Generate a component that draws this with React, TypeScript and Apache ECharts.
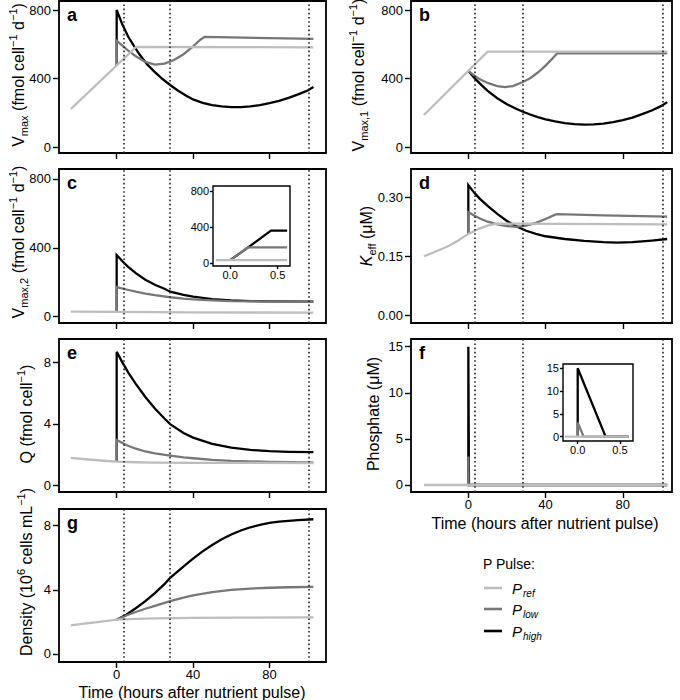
import React, { useEffect, useRef } from 'react';
import * as echarts from 'echarts';

// ---------- data (time in hours after nutrient pulse) ----------
const timeTicks = [0, 40, 80];
const sampleTimes = [3.5, 28, 100.5];
const vmaxTicks = [0, 400, 800];
const keffTicks = [0, 0.15, 0.3];
const qTicks = [0, 4, 8];
const phosTicks = [0, 5, 10, 15];
const densTicks = [0, 4, 8];
const insetTimeTicks = [0, 0.5];

const vmaxRef = [[-24, 222], [10.2, 585], [103, 582]];
const vmaxLow = [[0, 478], [0, 620], [3, 592], [6, 563], [10, 530], [15, 497], [20, 481], [25, 487], [30, 508], [35, 542], [40, 588], [44, 628], [46, 643], [60, 640], [80, 636], [103, 632]];
const vmaxHigh = [[0, 478], [0, 800], [3, 715], [6, 645], [9, 590], [12, 540], [16, 482], [20, 437], [24, 397], [28, 362], [32, 330], [36, 302], [40, 278], [45, 258], [50, 245], [55, 237], [60, 233], [65, 233], [70, 237], [75, 245], [80, 256], [85, 270], [90, 287], [95, 307], [100, 330], [103, 350]];

const vmax1Ref = [[-23, 187], [10, 557], [103, 557]];
const vmax1Low = [[0, 445], [3, 418], [6, 395], [10, 374], [15, 356], [19, 350], [23, 356], [28, 378], [32, 402], [36, 435], [40, 475], [43, 510], [46, 547], [103, 547]];
const vmax1High = [[0, 445], [3, 405], [6, 370], [10, 328], [15, 285], [20, 250], [25, 222], [28, 207], [32, 190], [36, 175], [40, 162], [45, 150], [50, 140], [55, 134], [60, 131], [65, 132], [70, 137], [75, 145], [80, 157], [85, 172], [90, 192], [95, 213], [100, 240], [103, 262]];

const vmax2Ref = [[-24, 30], [0, 28], [40, 25], [103, 24]];
const vmax2Low = [[0, 28], [0, 172], [5, 158], [10, 145], [15, 134], [20, 125], [28, 113], [35, 105], [40, 101], [50, 95], [60, 91], [80, 88], [103, 86]];
const vmax2High = [[0, 28], [0, 358], [3, 322], [6, 290], [10, 253], [15, 215], [20, 186], [25, 162], [28, 145], [35, 127], [40, 116], [50, 102], [60, 95], [70, 91], [80, 89], [103, 88]];
const vmax2InsetRef = [[-0.15, 30], [0.6, 30]];
const vmax2InsetLow = [[0, 30], [0.19, 172], [0.6, 172]];
const vmax2InsetHigh = [[0, 30], [0.19, 172], [0.43, 358], [0.6, 358]];

const keffRef = [[-23, 0.15], [-15, 0.166], [-10, 0.177], [-5, 0.191], [0, 0.207], [5, 0.219], [10, 0.228], [14.5, 0.233], [103, 0.231]];
const keffLow = [[0, 0.207], [0, 0.262], [3, 0.254], [6, 0.246], [10, 0.238], [15, 0.231], [20, 0.227], [25, 0.225], [30, 0.228], [35, 0.235], [40, 0.245], [45, 0.256], [46, 0.257], [70, 0.254], [103, 0.251]];
const keffHigh = [[0, 0.207], [0, 0.331], [3, 0.312], [6, 0.296], [10, 0.278], [15, 0.258], [20, 0.24], [25, 0.226], [30, 0.215], [35, 0.207], [40, 0.201], [50, 0.194], [60, 0.189], [70, 0.186], [77, 0.185], [85, 0.186], [95, 0.19], [103, 0.194]];

const qRef = [[-24, 1.78], [-15, 1.68], [-10, 1.63], [-5, 1.58], [0, 1.54], [10, 1.5], [20, 1.48], [40, 1.46], [103, 1.45]];
const qLow = [[0, 1.54], [0, 2.95], [5, 2.62], [10, 2.38], [15, 2.2], [20, 2.07], [28, 1.93], [35, 1.82], [40, 1.76], [50, 1.66], [60, 1.59], [80, 1.52], [103, 1.49]];
const qHigh = [[0, 1.54], [0, 8.68], [3, 8.0], [6, 7.35], [10, 6.6], [15, 5.75], [20, 5.0], [25, 4.35], [28, 3.98], [35, 3.4], [40, 3.1], [50, 2.7], [60, 2.45], [70, 2.3], [80, 2.22], [90, 2.18], [103, 2.16]];

const phosRef = [[-23, 0], [103, 0]];
const phosLow = [[0, 0], [0, 3.1], [0.07, 0], [103, 0]];
const phosHigh = [[0, 0], [0, 15], [0.33, 0], [103, 0]];
const phosInsetRef = [[-0.15, 0], [0.6, 0]];
const phosInsetLow = [[0, 0], [0, 3.1], [0.07, 0], [0.6, 0]];
const phosInsetHigh = [[0, 0], [0, 15], [0.33, 0], [0.6, 0]];

const densRef = [[-24, 1.79], [-15, 1.92], [-10, 1.99], [-5, 2.06], [0, 2.14], [10, 2.19], [20, 2.22], [40, 2.25], [60, 2.27], [103, 2.28]];
const densLow = [[0, 2.14], [5, 2.4], [10, 2.62], [15, 2.82], [20, 3.0], [28, 3.3], [35, 3.52], [40, 3.65], [50, 3.86], [60, 4.0], [70, 4.08], [80, 4.13], [90, 4.16], [103, 4.18]];
const densHigh = [[0, 2.14], [5, 2.45], [10, 2.85], [15, 3.3], [20, 3.8], [25, 4.35], [28, 4.75], [32, 5.15], [36, 5.55], [40, 5.95], [45, 6.4], [50, 6.8], [55, 7.15], [60, 7.45], [65, 7.7], [70, 7.9], [75, 8.05], [80, 8.17], [85, 8.25], [90, 8.3], [95, 8.35], [103, 8.4]];

const legendNames = ['ref', 'low', 'high'];

// ---------- styling ----------
const FONT = '"Liberation Sans", Arial, Helvetica, sans-serif';
const C_REF = '#bdbdbd';
const C_LOW = '#777777';
const C_HIGH = '#000000';
const LW = 2.3;

type Panel = {
  grid: { left: number; top: number; width: number; height: number };
  x: [number, number];
  y: [number, number];
  xTicks: number[];
  yTicks: number[];
  xLabels: boolean;
  yFmt?: (v: number) => string;
  xFmt?: (v: number) => string;
  high: number[][];
  low: number[][];
  ref: number[][];
  inset?: boolean;
};

const LX = [-30.2, 109.6] as [number, number];
const RX = [-29.7, 105.5] as [number, number];

const panels: Panel[] = [
  { grid: { left: 59, top: 1, width: 267, height: 152 }, x: LX, y: [-35, 852.6], xTicks: timeTicks, yTicks: vmaxTicks, xLabels: false, high: vmaxHigh, low: vmaxLow, ref: vmaxRef },
  { grid: { left: 411, top: 1, width: 261, height: 152 }, x: RX, y: [-35, 852.6], xTicks: timeTicks, yTicks: vmaxTicks, xLabels: false, high: vmax1High, low: vmax1Low, ref: vmax1Ref },
  { grid: { left: 59, top: 169, width: 267, height: 154 }, x: LX, y: [-36.6, 858], xTicks: timeTicks, yTicks: vmaxTicks, xLabels: false, high: vmax2High, low: vmax2Low, ref: vmax2Ref },
  { grid: { left: 411, top: 169, width: 261, height: 154 }, x: RX, y: [-0.0196, 0.372], xTicks: timeTicks, yTicks: keffTicks, xLabels: false, yFmt: (v) => v.toFixed(2), high: keffHigh, low: keffLow, ref: keffRef },
  { grid: { left: 59, top: 339, width: 267, height: 153 }, x: LX, y: [-0.436, 9.52], xTicks: timeTicks, yTicks: qTicks, xLabels: false, high: qHigh, low: qLow, ref: qRef },
  { grid: { left: 411, top: 339, width: 261, height: 153 }, x: RX, y: [-0.76, 15.83], xTicks: timeTicks, yTicks: phosTicks, xLabels: true, high: phosHigh, low: phosLow, ref: phosRef },
  { grid: { left: 59, top: 509, width: 267, height: 153 }, x: LX, y: [-0.5, 9.04], xTicks: timeTicks, yTicks: densTicks, xLabels: true, high: densHigh, low: densLow, ref: densRef },
  { grid: { left: 213, top: 186, width: 77, height: 80 }, x: [-0.18, 0.63], y: [-35, 855], xTicks: insetTimeTicks, yTicks: vmaxTicks, xLabels: true, xFmt: (v) => v.toFixed(1), high: vmax2InsetHigh, low: vmax2InsetLow, ref: vmax2InsetRef, inset: true },
  { grid: { left: 563, top: 364, width: 70, height: 77 }, x: [-0.174, 0.654], y: [-0.94, 15.94], xTicks: insetTimeTicks, yTicks: phosTicks, xLabels: true, xFmt: (v) => v.toFixed(1), high: phosInsetHigh, low: phosInsetLow, ref: phosInsetRef, inset: true },
];

const richBase = {
  n: { fontSize: 16, lineHeight: 22, fontFamily: FONT, fill: '#000' },
  i: { fontSize: 16, lineHeight: 22, fontFamily: FONT, fontStyle: 'italic', fill: '#000' },
  sub: { fontSize: 11, lineHeight: 13, fontFamily: FONT, verticalAlign: 'bottom', fill: '#000' },
  sup: { fontSize: 11, lineHeight: 13, fontFamily: FONT, verticalAlign: 'top', fill: '#000' },
};

const yTitles: { text: string; x: number; y: number }[] = [
  { text: '{n|V}{sub|max}{n| (fmol cell}{sup|−1}{n| d}{sup|−1}{n|)}', x: 18, y: 75 },
  { text: '{n|V}{sub|max,1}{n| (fmol cell}{sup|−1}{n| d}{sup|−1}{n|)}', x: 358, y: 75 },
  { text: '{n|V}{sub|max,2}{n| (fmol cell}{sup|−1}{n| d}{sup|−1}{n|)}', x: 18, y: 242 },
  { text: '{i|K}{sub|eff}{n| (μM)}', x: 366, y: 236 },
  { text: '{n|Q (fmol cell}{sup|−1}{n|)}', x: 26, y: 414 },
  { text: '{n|Phosphate (μM)}', x: 373, y: 414 },
  { text: '{n|Density (10}{sup|6}{n| cells mL}{sup|−1}{n|)}', x: 26, y: 572 },
];

const letters = [
  { t: 'a', x: 67, y: 15 },
  { t: 'b', x: 419, y: 15 },
  { t: 'c', x: 67, y: 183 },
  { t: 'd', x: 419, y: 183 },
  { t: 'e', x: 67, y: 353 },
  { t: 'f', x: 419, y: 353 },
  { t: 'g', x: 67, y: 523 },
];

function buildOption() {
  const grid: any[] = [];
  const xAxis: any[] = [];
  const yAxis: any[] = [];
  const series: any[] = [];

  panels.forEach((p, i) => {
    const fs = p.inset ? 11 : 13;
    const tickLen = p.inset ? 3 : 6;
    grid.push({
      ...p.grid,
      show: true,
      borderColor: '#000',
      borderWidth: p.inset ? 1.4 : 1.8,
      backgroundColor: p.inset ? '#ffffff' : 'transparent',
      containLabel: false,
      z: p.inset ? 5 : 0,
    });
    xAxis.push({
      type: 'value',
      gridIndex: i,
      min: p.x[0],
      max: p.x[1],
      axisLine: { show: false, onZero: false },
      splitLine: { show: false },
      axisTick: { show: true, customValues: p.xTicks, length: tickLen, lineStyle: { color: '#000', width: 1.4 } },
      axisLabel: {
        show: p.xLabels,
        customValues: p.xTicks,
        formatter: p.xFmt ? (v: number) => p.xFmt!(v) : (v: number) => String(v),
        fontSize: fs,
        fontFamily: FONT,
        color: '#000',
        margin: p.inset ? 3 : 6,
      },
    });
    yAxis.push({
      type: 'value',
      gridIndex: i,
      min: p.y[0],
      max: p.y[1],
      axisLine: { show: false, onZero: false },
      splitLine: { show: false },
      axisTick: { show: true, customValues: p.yTicks, length: tickLen, lineStyle: { color: '#000', width: 1.4 } },
      axisLabel: {
        show: true,
        customValues: p.yTicks,
        formatter: p.yFmt ? (v: number) => p.yFmt!(v) : (v: number) => String(v),
        fontSize: fs,
        fontFamily: FONT,
        color: '#000',
        margin: p.inset ? 4 : 8,
      },
    });
    const mk = (name: string, data: number[][], color: string, withMarks: boolean) => {
      const s: any = {
        type: 'line',
        name,
        xAxisIndex: i,
        yAxisIndex: i,
        data,
        symbol: 'none',
        showSymbol: false,
        silent: true,
        lineStyle: { color, width: LW, cap: 'butt', join: 'miter' },
        itemStyle: { color },
        emphasis: { disabled: true },
        z: p.inset ? 6 : 2,
      };
      if (withMarks) {
        s.markLine = {
          silent: true,
          symbol: ['none', 'none'],
          label: { show: false },
          lineStyle: { color: '#222', width: 1.6, type: [1.6, 2.6] },
          data: sampleTimes.map((t) => ({ xAxis: t })),
        };
      }
      return s;
    };
    series.push(mk('P_' + legendNames[2], p.high, C_HIGH, false));
    series.push(mk('P_' + legendNames[1], p.low, C_LOW, false));
    series.push(mk('P_' + legendNames[0], p.ref, C_REF, !p.inset));
  });

  const graphic: any[] = [];
  letters.forEach((l) => {
    graphic.push({
      type: 'text',
      x: l.x,
      y: l.y,
      z: 10,
      style: { text: l.t, font: `bold 18px ${FONT}`, fill: '#000', align: 'left', verticalAlign: 'middle' },
    });
  });
  yTitles.forEach((t) => {
    graphic.push({
      type: 'text',
      x: t.x,
      y: t.y,
      rotation: Math.PI / 2,
      z: 10,
      style: { text: t.text, rich: richBase, align: 'center', verticalAlign: 'middle' },
    });
  });
  const xTitle = 'Time (hours after nutrient pulse)';
  graphic.push({ type: 'text', x: 545, y: 523, z: 10, style: { text: xTitle, font: `16px ${FONT}`, fill: '#000', align: 'center', verticalAlign: 'middle' } });
  graphic.push({ type: 'text', x: 192, y: 692, z: 10, style: { text: xTitle, font: `16px ${FONT}`, fill: '#000', align: 'center', verticalAlign: 'middle' } });

  // legend
  graphic.push({ type: 'text', x: 483, y: 564, z: 10, style: { text: 'P Pulse:', font: `14px ${FONT}`, fill: '#000', align: 'left', verticalAlign: 'middle' } });
  const legColors = [C_REF, C_LOW, C_HIGH];
  const legY = [588, 609, 631];
  legendNames.forEach((nm, k) => {
    graphic.push({ type: 'line', z: 10, shape: { x1: 484, y1: legY[k], x2: 502, y2: legY[k] }, style: { stroke: legColors[k], lineWidth: 2.6 } });
    graphic.push({
      type: 'text',
      x: 512,
      y: legY[k],
      z: 10,
      style: {
        text: `{p|P}{s|${nm}}`,
        align: 'left',
        verticalAlign: 'middle',
        rich: {
          p: { fontSize: 15, lineHeight: 20, fontStyle: 'italic', fontFamily: FONT, fill: '#000' },
          s: { fontSize: 10, lineHeight: 12, fontStyle: 'italic', fontFamily: FONT, verticalAlign: 'bottom', fill: '#000', padding: [0, 0, 0, 1] },
        },
      },
    });
  });

  return {
    animation: false,
    backgroundColor: '#ffffff',
    grid,
    xAxis,
    yAxis,
    series,
    graphic,
  };
}

export default function App() {
  const ref = useRef<HTMLDivElement>(null);
  useEffect(() => {
    const chart = echarts.init(ref.current!, null, { renderer: 'svg' });
    chart.setOption(buildOption() as any);
    return () => chart.dispose();
  }, []);
  return <div ref={ref} style={{ position: 'absolute', left: 0, top: 0, width: 680, height: 700 }} />;
}
